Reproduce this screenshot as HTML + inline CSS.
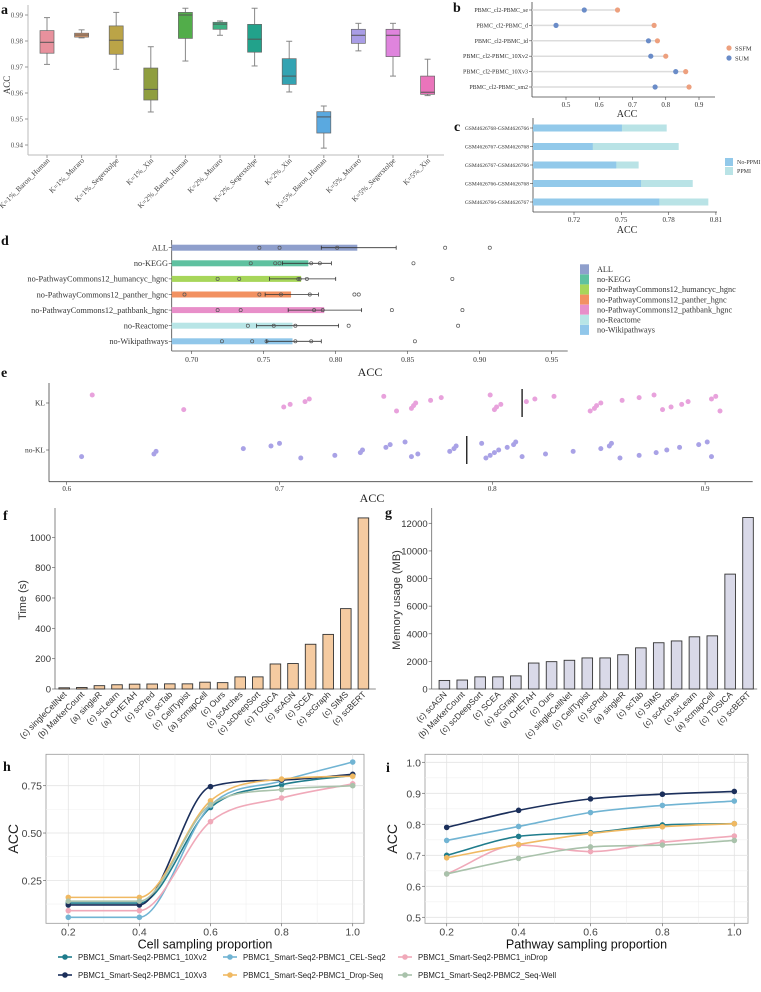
<!DOCTYPE html>
<html><head><meta charset="utf-8"><style>
html,body{margin:0;padding:0;background:#fff;width:761px;height:992px;overflow:hidden}
svg{display:block}
.serif{font-family:"Liberation Serif",serif}
.sans{font-family:"Liberation Sans",sans-serif}
</style></head><body>
<svg id="fig" width="761" height="992" viewBox="0 0 761 992" xmlns="http://www.w3.org/2000/svg">
<g class="serif" font-weight="bold" font-size="14" fill="#111">
<text x="1" y="14">a</text>
<text x="453" y="12">b</text>
<text x="454" y="131">c</text>
<text x="1" y="245">d</text>
<text x="1" y="377">e</text>
<text x="3" y="520">f</text>
<text x="385" y="517">g</text>
<text x="3" y="771">h</text>
<text x="386" y="772">i</text>
</g>
</svg>
<script>
// ---------- DATA ----------
const aCats=["K=1%_Baron_Human","K=1%_Muraro","K=1%_Segerstolpe","K=1%_Xin","K=2%_Baron_Human","K=2%_Muraro","K=2%_Segerstolpe","K=2%_Xin","K=5%_Baron_Human","K=5%_Muraro","K=5%_Segerstolpe","K=5%_Xin"];
const aLow=[0.971,0.9812,0.9691,0.9527,0.9723,0.9822,0.9704,0.9604,0.9388,0.9762,0.9665,0.959];
const aQ1=[0.9753,0.9815,0.9749,0.9573,0.981,0.9845,0.9757,0.9633,0.9446,0.9791,0.974,0.9595];
const aMed=[0.9795,0.9823,0.9803,0.9614,0.990,0.9865,0.9807,0.9665,0.9508,0.9822,0.9822,0.9603];
const aQ3=[0.984,0.983,0.9858,0.9696,0.991,0.9872,0.9864,0.9732,0.9528,0.9845,0.9845,0.9665];
const aHigh=[0.989,0.9843,0.991,0.9778,0.9926,0.9877,0.9926,0.9799,0.955,0.9868,0.9868,0.973];
const aTicks=[0.94,0.95,0.96,0.97,0.98,0.99];
const bCats=["PBMC_cl2-PBMC_se","PBMC_cl2-PBMC_d","PBMC_cl2-PBMC_id","PBMC_cl2-PBMC_10Xv2","PBMC_cl2-PBMC_10Xv3","PBMC_cl2-PBMC_sm2"];
const bSSFM=[0.655,0.765,0.775,0.80,0.86,0.87];
const bSUM=[0.555,0.47,0.748,0.755,0.83,0.768];
const bTicks=[0.5,0.6,0.7,0.8,0.9];
const cCats=["GSM4626768-GSM4626766","GSM4626767-GSM4626768","GSM4626767-GSM4626766","GSM4626766-GSM4626768","GSM4626766-GSM4626767"];
const cNoPPMI=[0.7504,0.7319,0.7468,0.7625,0.7741];
const cPPMI=[0.7788,0.7864,0.761,0.7953,0.8052];
const cTicks=[0.72,0.75,0.78,0.81];
const dCats=["ALL","no-KEGG","no-PathwayCommons12_humancyc_hgnc","no-PathwayCommons12_panther_hgnc","no-PathwayCommons12_pathbank_hgnc","no-Reactome","no-Wikipathways"];
const dMean=[0.815,0.781,0.776,0.769,0.792,0.770,0.770];
const dErrLo=[0.790,0.763,0.754,0.751,0.767,0.745,0.752];
const dErrHi=[0.842,0.797,0.800,0.788,0.818,0.802,0.790];
const dPoints=[[0.747,0.761,0.801,0.876,0.907],[0.741,0.758,0.761,0.783,0.789,0.854],[0.718,0.733,0.774,0.775,0.78,0.881],[0.695,0.747,0.762,0.782,0.813,0.816],[0.718,0.734,0.785,0.791,0.839,0.888],[0.739,0.757,0.772,0.809,0.885],[0.721,0.742,0.752,0.772,0.783,0.855]];
const dTicks=[0.70,0.75,0.80,0.85,0.90,0.95];
const eKL=[0.612,0.655,0.702,0.705,0.712,0.714,0.749,0.755,0.762,0.763,0.764,0.771,0.776,0.799,0.801,0.802,0.804,0.816,0.820,0.829,0.846,0.848,0.849,0.851,0.861,0.869,0.876,0.880,0.884,0.889,0.892,0.903,0.905,0.907];
const eNoKL=[0.607,0.641,0.642,0.683,0.696,0.700,0.710,0.726,0.738,0.739,0.750,0.752,0.759,0.762,0.765,0.780,0.782,0.783,0.795,0.797,0.799,0.801,0.803,0.807,0.810,0.811,0.814,0.825,0.838,0.851,0.855,0.856,0.860,0.869,0.877,0.882,0.888,0.897,0.901,0.903];
const eMedians=[0.814,0.788];
const eTicks=[0.6,0.7,0.8,0.9];
const fCats=["(c) singleCellNet","(b) MarkerCount","(a) singleR","(c) scLearn","(a) CHETAH","(c) scPred","(c) scTab","(c) CellTypist","(a) scmapCell","(c) Ours","(c) scArches","(c) scDeepSort","(c) TOSICA","(c) scAGN","(c) SCEA","(c) scGraph","(c) SIMS","(c) scBERT"];
const fVals=[8,10,22,28,32,33,34,34,45,42,80,80,165,168,295,360,530,1128];
const fTicks=[0,200,400,600,800,1000];
const gCats=["(c) scAGN","(b) MarkerCount","(c) scDeepSort","(c) SCEA","(c) scGraph","(a) CHETAH","(c) Ours","(c) singleCellNet","(c) CellTypist","(c) scPred","(a) singleR","(c) scTab","(c) SIMS","(c) scArches","(c) scLearn","(a) scmapCell","(c) TOSICA","(c) scBERT"];
const gVals=[620,650,880,880,950,1880,1980,2080,2250,2250,2480,2980,3350,3480,3780,3850,8320,12420];
const gTicks=[0,2000,4000,6000,8000,10000,12000];
const hiProps=[0.2,0.4,0.6,0.8,1.0];
const seriesNames=["PBMC1_Smart-Seq2-PBMC1_10Xv2","PBMC1_Smart-Seq2-PBMC1_CEL-Seq2","PBMC1_Smart-Seq2-PBMC1_inDrop","PBMC1_Smart-Seq2-PBMC1_10Xv3","PBMC1_Smart-Seq2-PBMC1_Drop-Seq","PBMC1_Smart-Seq2-PBMC2_Seq-Well"];
const h10Xv2=[0.13,0.13,0.635,0.755,0.805];
const hCEL=[0.055,0.055,0.645,0.775,0.875];
const hInDrop=[0.09,0.09,0.56,0.685,0.76];
const h10Xv3=[0.12,0.12,0.745,0.78,0.81];
const hDropSeq=[0.16,0.16,0.67,0.785,0.80];
const hSeqWell=[0.14,0.14,0.65,0.73,0.75];
const i10Xv2=[0.70,0.761,0.773,0.798,0.802];
const iCEL=[0.748,0.793,0.838,0.861,0.875];
const iInDrop=[0.64,0.733,0.712,0.742,0.762];
const i10Xv3=[0.79,0.845,0.882,0.897,0.906];
const iDropSeq=[0.692,0.735,0.770,0.792,0.802];
const iSeqWell=[0.64,0.69,0.727,0.733,0.748];
const hTicks=[0.25,0.50,0.75];
const iTicks=[0.5,0.6,0.7,0.8,0.9,1.0];

// ---------- HELPERS ----------
const NS="http://www.w3.org/2000/svg";
const svg=document.getElementById('fig');
function mk(tag,attrs,parent){const e=document.createElementNS(NS,tag);for(const k in attrs)e.setAttribute(k,attrs[k]);(parent||svg).appendChild(e);return e;}
function tx(x,y,s,attrs,parent){const e=mk('text',Object.assign({x:x,y:y},attrs),parent);e.textContent=s;return e;}
function grp(cls,name){const g=mk('g',{class:cls});return g;}

// ---------- PANEL A ----------
(function(){
const g=grp('serif','panel-a-boxplot');
const ya=v=>15+(0.99-v)/0.01*26;
const xa=i=>47+i*34.6;
const cols=["#e8919d","#df9a6a","#bba447","#8f9e3f","#52ad4a","#3fb283","#22a28b","#33a3b2","#5aa9e0","#a99de6","#df84dd","#ea74bb"];
mk('line',{x1:28,y1:5,x2:28,y2:155,stroke:'#bbb'},g);
mk('line',{x1:28,y1:155,x2:444,y2:155,stroke:'#bbb'},g);
aTicks.forEach(t=>{mk('line',{x1:25,x2:28,y1:ya(t),y2:ya(t),stroke:'#999'},g);
 const l=tx(23,ya(t)+2.5,t.toFixed(2),{'font-size':7,'text-anchor':'end',fill:'#555'},g);
 });
const yl=tx(0,0,'ACC',{'font-size':9,'text-anchor':'middle',fill:'#333',transform:'translate(10,85) rotate(-90)'},g);

aCats.forEach((c,i)=>{const x=xa(i),w=14;
 const bx=mk('g',{},g);
 
 
 mk('line',{x1:x,x2:x,y1:ya(aHigh[i]),y2:ya(aLow[i]),stroke:'#888','stroke-width':1},bx);
 mk('line',{x1:x-3,x2:x+3,y1:ya(aHigh[i]),y2:ya(aHigh[i]),stroke:'#888'},bx);
 mk('line',{x1:x-3,x2:x+3,y1:ya(aLow[i]),y2:ya(aLow[i]),stroke:'#888'},bx);
 mk('rect',{x:x-w/2,y:ya(aQ3[i]),width:w,height:Math.max(1,ya(aQ1[i])-ya(aQ3[i])),fill:cols[i],stroke:'#666','stroke-width':0.7},bx);
 mk('line',{x1:x-w/2,x2:x+w/2,y1:ya(aMed[i]),y2:ya(aMed[i]),stroke:'#555','stroke-width':1},bx);
 mk('line',{x1:x,x2:x,y1:155,y2:158,stroke:'#999'},g);
 const l=tx(0,0,c,{'font-size':7.5,'text-anchor':'end',fill:'#444',transform:`translate(${x+3},${161}) rotate(-45)`},g);
 
});
})();

// ---------- PANEL B ----------
(function(){
const g=grp('serif','panel-b-dumbbell');
const xb=v=>566+(v-0.5)*332.5;
const yb=i=>10+i*15.4;
mk('line',{x1:532,y1:2,x2:532,y2:97,stroke:'#444','stroke-width':0.8},g);
mk('line',{x1:532,y1:97,x2:715,y2:97,stroke:'#444','stroke-width':0.8},g);
bCats.forEach((c,i)=>{const y=yb(i);
 mk('line',{x1:532,x2:xb(Math.max(bSSFM[i],bSUM[i])),y1:y,y2:y,stroke:'#dcdcdc','stroke-width':1.5},g);
 const p1=mk('circle',{cx:xb(bSSFM[i]),cy:y,r:2.6,fill:'#eda07e'},g);
 
 const p2=mk('circle',{cx:xb(bSUM[i]),cy:y,r:2.6,fill:'#6a8cc8'},g);
 
 mk('line',{x1:529,x2:532,y1:y,y2:y,stroke:'#444','stroke-width':0.6},g);
 const l=tx(528,y+2,c,{'font-size':6,'text-anchor':'end',fill:'#333'},g);
 });
bTicks.forEach(t=>{mk('line',{x1:xb(t),x2:xb(t),y1:97,y2:100,stroke:'#444','stroke-width':0.6},g);
 const l=tx(xb(t),107,String(t),{'font-size':7,'text-anchor':'middle',fill:'#333'},g);
 });
const xl=tx(627,117,'ACC',{'font-size':10,'text-anchor':'middle',fill:'#222'},g);

const l1=mk('g',{},g);
mk('circle',{cx:729,cy:48,r:2.6,fill:'#eda07e'},l1);tx(735,50.5,'SSFM',{'font-size':6.5,fill:'#333'},l1);
const l2=mk('g',{},g);
mk('circle',{cx:729,cy:58,r:2.6,fill:'#6a8cc8'},l2);tx(735,60.5,'SUM',{'font-size':6.5,fill:'#333'},l2);
})();

// ---------- PANEL C ----------
(function(){
const g=grp('serif','panel-c-stacked-bars');
const xc=v=>574+(v-0.72)/0.03*47.3;
const yc=i=>128+i*18.5;
mk('line',{x1:533,y1:118,x2:533,y2:212,stroke:'#444','stroke-width':0.8},g);
mk('line',{x1:533,y1:212,x2:717,y2:212,stroke:'#444','stroke-width':0.8},g);
cCats.forEach((c,i)=>{const y=yc(i);
 const b2=mk('rect',{x:533,y:y-3.5,width:xc(cPPMI[i])-533,height:7,fill:'#b9e3e6'},g);
 
 const b1=mk('rect',{x:533,y:y-3.5,width:xc(cNoPPMI[i])-533,height:7,fill:'#92c9ea'},g);
 
 mk('line',{x1:530,x2:533,y1:y,y2:y,stroke:'#444','stroke-width':0.6},g);
 const l=tx(529,y+2,c,{'font-size':5.5,'text-anchor':'end',fill:'#333'},g);
 });
cTicks.forEach(t=>{mk('line',{x1:xc(t),x2:xc(t),y1:212,y2:215,stroke:'#444','stroke-width':0.6},g);
 const l=tx(xc(t),222,t.toFixed(2),{'font-size':7,'text-anchor':'middle',fill:'#333'},g);
 });
const xl=tx(627,233,'ACC',{'font-size':10,'text-anchor':'middle',fill:'#222'},g);

const l1=mk('g',{},g);
mk('rect',{x:725,y:158,width:8,height:8,fill:'#92c9ea'},l1);tx(737,164,'No-PPMI',{'font-size':6,fill:'#333'},l1);
const l2=mk('g',{},g);
mk('rect',{x:725,y:167,width:8,height:8,fill:'#b9e3e6'},l2);tx(737,173,'PPMI',{'font-size':6,fill:'#333'},l2);
})();

// ---------- PANEL D ----------
(function(){
const g=grp('serif','panel-d-bar-dots');
const xd=v=>191.7+(v-0.7)*1440;
const yd=i=>247.7+i*15.6;
const cols=["#8f9fcc","#5fc1a0","#a7d65a","#f29161","#e88fc9","#b8e5e6","#91c7ea"];
mk('line',{x1:171.7,y1:240,x2:171.7,y2:351,stroke:'#444','stroke-width':0.8},g);
mk('line',{x1:171.7,y1:351,x2:567.7,y2:351,stroke:'#444','stroke-width':0.8},g);
dCats.forEach((c,i)=>{const y=yd(i);
 const b=mk('rect',{x:171.7,y:y-3,width:xd(dMean[i])-171.7,height:6,fill:cols[i]},g);
 
 mk('line',{x1:xd(dErrLo[i]),x2:xd(dErrHi[i]),y1:y,y2:y,stroke:'#333','stroke-width':0.8},g);
 mk('line',{x1:xd(dErrLo[i]),x2:xd(dErrLo[i]),y1:y-2,y2:y+2,stroke:'#333','stroke-width':0.8},g);
 mk('line',{x1:xd(dErrHi[i]),x2:xd(dErrHi[i]),y1:y-2,y2:y+2,stroke:'#333','stroke-width':0.8},g);
 dPoints[i].forEach(v=>{const p=mk('circle',{cx:xd(v),cy:y,r:1.6,fill:'none',stroke:'#555','stroke-width':0.7},g);
  });
 mk('line',{x1:168.7,x2:171.7,y1:y,y2:y,stroke:'#444','stroke-width':0.6},g);
 const l=tx(168,y+2.8,c,{'font-size':8.3,'text-anchor':'end',fill:'#333'},g);
 
 const le=mk('g',{},g);
 mk('rect',{x:580,y:264.3+i*10.1,width:9,height:10,fill:cols[i]},le);
 tx(597,272+i*10.1,c,{'font-size':8.2,fill:'#333'},le);
});
dTicks.forEach(t=>{mk('line',{x1:xd(t),x2:xd(t),y1:351,y2:354,stroke:'#444','stroke-width':0.6},g);
 const l=tx(xd(t),362,t.toFixed(2),{'font-size':7.5,'text-anchor':'middle',fill:'#333'},g);
 });
const xl=tx(370,376,'ACC',{'font-size':12,'text-anchor':'middle',fill:'#222'},g);

})();

// ---------- PANEL E ----------
(function(){
const g=grp('serif','panel-e-strip');
const xe=v=>66.7+(v-0.6)*2128;
const rows=[{n:'KL',y:403,d:eKL,c:'#e8a2dc',m:eMedians[0]},{n:'no-KL',y:450,d:eNoKL,c:'#a9a2e6',m:eMedians[1]}];
mk('line',{x1:49,y1:383,x2:49,y2:481.7,stroke:'#444','stroke-width':0.8},g);
mk('line',{x1:49,y1:481.7,x2:752.7,y2:481.7,stroke:'#444','stroke-width':0.8},g);
rows.forEach((r,ri)=>{
 r.d.forEach((v,j)=>{const jit=(((j*37+ri*11)%13)/12-0.5)*16;
  const p=mk('circle',{cx:xe(v),cy:r.y+jit,r:2.5,fill:r.c},g);
  });
 const m=mk('line',{x1:xe(r.m),x2:xe(r.m),y1:r.y-14,y2:r.y+14,stroke:'#111','stroke-width':1.3},g);
 
 mk('line',{x1:46,x2:49,y1:r.y,y2:r.y,stroke:'#444','stroke-width':0.6},g);
 const l=tx(45,r.y+2.7,r.n,{'font-size':7.5,'text-anchor':'end',fill:'#333'},g);
 
});
eTicks.forEach(t=>{mk('line',{x1:xe(t),x2:xe(t),y1:481.7,y2:484.7,stroke:'#444','stroke-width':0.6},g);
 const l=tx(xe(t),491,String(t),{'font-size':7,'text-anchor':'middle',fill:'#333'},g);
 });
const xl=tx(372,502,'ACC',{'font-size':12,'text-anchor':'middle',fill:'#222'},g);

})();

// ---------- PANELS F, G ----------
function barPanel(name,cats,vals,ticks,x0,first,step,yScale,fill,ylab,ylx){
 const g=grp('sans',name);
 mk('line',{x1:x0,y1:508,x2:x0,y2:689,stroke:'#666','stroke-width':0.8},g);
 mk('line',{x1:x0,y1:689,x2:x0+step*18+4,y2:689,stroke:'#666','stroke-width':0.8},g);
 ticks.forEach(t=>{const y=yScale(t);mk('line',{x1:x0-3,x2:x0,y1:y,y2:y,stroke:'#666','stroke-width':0.7},g);
  const l=tx(x0-4,y+3.5,String(t),{'font-size':9.5,'text-anchor':'end',fill:'#333'},g);
  });
 cats.forEach((c,i)=>{const x=first+i*step;
  const b=mk('rect',{x:x-5.3,y:yScale(vals[i]),width:10.6,height:689-yScale(vals[i]),fill:fill,stroke:'#333','stroke-width':0.9},g);
  
  const l=tx(0,0,c,{'font-size':8.5,'text-anchor':'end',fill:'#333',transform:`translate(${x+3},${695}) rotate(-45)`},g);
  });
 const yl=tx(0,0,ylab,{'font-size':11,'text-anchor':'middle',fill:'#333',transform:`translate(${ylx},600) rotate(-90)`},g);
 
}
barPanel('panel-f-time',fCats,fVals,fTicks,55,64.2,17.6,v=>689-v*0.15167,'#f5cba1','Time (s)',26);
barPanel('panel-g-memory',gCats,gVals,gTicks,431.7,444.4,17.86,v=>689-v*0.013808,'#d9d9e8','Memory usage (MB)',400);

// ---------- PANELS H, I ----------
const lineCols=["#1f7c8c","#71b4d3","#f0a9b9","#1b2f5b","#f0b962","#a9c2ab"];
function monotone(pts){const n=pts.length,dx=[],dy=[],m=[],t=[];
 for(let k=0;k<n-1;k++){dx[k]=pts[k+1][0]-pts[k][0];dy[k]=pts[k+1][1]-pts[k][1];m[k]=dy[k]/dx[k];}
 t[0]=m[0];t[n-1]=m[n-2];
 for(let k=1;k<n-1;k++){t[k]=(m[k-1]*m[k]<=0)?0:(m[k-1]+m[k])/2;}
 for(let k=0;k<n-1;k++){if(m[k]===0){t[k]=0;t[k+1]=0;continue;}
  const a=t[k]/m[k],b=t[k+1]/m[k],s=a*a+b*b;if(s>9){const r=3/Math.sqrt(s);t[k]=r*a*m[k];t[k+1]=r*b*m[k];}}
 let d=`M${pts[0][0]},${pts[0][1]}`;
 for(let k=0;k<n-1;k++){const h=dx[k]/3;
  d+=` C${pts[k][0]+h},${pts[k][1]+t[k]*h} ${pts[k+1][0]-h},${pts[k+1][1]-t[k+1]*h} ${pts[k+1][0]},${pts[k+1][1]}`;}
 return d;}
function linePanel(name,box,xs,ys,ticks,minor,series,fmt,xlab){
 const g=grp('sans',name);
 mk('rect',{x:box[0],y:box[1],width:box[2]-box[0],height:box[3]-box[1],fill:'#fff',stroke:'#999','stroke-width':0.8},g);
 [0.3,0.5,0.7,0.9].forEach(p=>mk('line',{x1:xs(p),x2:xs(p),y1:box[1],y2:box[3],stroke:'#f0f0f0','stroke-width':0.6},g));
 minor.forEach(t=>mk('line',{x1:box[0],x2:box[2],y1:ys(t),y2:ys(t),stroke:'#f0f0f0','stroke-width':0.6},g));
 hiProps.forEach(p=>{mk('line',{x1:xs(p),x2:xs(p),y1:box[1],y2:box[3],stroke:'#e3e3e3','stroke-width':0.8},g);
  mk('line',{x1:xs(p),x2:xs(p),y1:box[3],y2:box[3]+3,stroke:'#666','stroke-width':0.7},g);
  const l=tx(xs(p),box[3]+12,p.toFixed(1),{'font-size':10.5,'text-anchor':'middle',fill:'#444'},g);
  });
 ticks.forEach(t=>{mk('line',{x1:box[0],x2:box[2],y1:ys(t),y2:ys(t),stroke:'#e3e3e3','stroke-width':0.8},g);
  mk('line',{x1:box[0]-3,x2:box[0],y1:ys(t),y2:ys(t),stroke:'#666','stroke-width':0.7},g);
  const l=tx(box[0]-4,ys(t)+4,fmt(t),{'font-size':10.5,'text-anchor':'end',fill:'#444'},g);
  });
 series.forEach((s,si)=>{const pts=hiProps.map((p,k)=>[xs(p),ys(s[k])]);
  const path=mk('path',{d:monotone(pts),fill:'none',stroke:lineCols[si],'stroke-width':1.6},g);
  
  pts.forEach(pt=>{const c=mk('circle',{cx:pt[0],cy:pt[1],r:2.8,fill:lineCols[si]},g);
   });});
 const yl=tx(0,0,'ACC',{'font-size':14,'text-anchor':'middle',fill:'#222',transform:`translate(${box[0]-28},${(box[1]+box[3])/2}) rotate(-90)`},g);
 
 const xl=tx((box[0]+box[2])/2,box[3]+25,xlab,{'font-size':12.5,'text-anchor':'middle',fill:'#111'},g);
 
}
linePanel('panel-h-cell-sampling',[46,754.3,364,923.3],p=>68.3+(p-0.2)/0.8*284.4,v=>785.7-(v-0.75)*189.3,hTicks,[0.125,0.375,0.625],[h10Xv2,hCEL,hInDrop,h10Xv3,hDropSeq,hSeqWell],t=>t.toFixed(2),'Cell sampling proportion');
linePanel('panel-i-pathway-sampling',[425,754.3,748,923.3],p=>446.7+(p-0.2)/0.8*287.6,v=>762.3-(v-1)*310,iTicks,[0.55,0.65,0.75,0.85,0.95],[i10Xv2,iCEL,iInDrop,i10Xv3,iDropSeq,iSeqWell],t=>t.toFixed(1),'Pathway sampling proportion');

(function(){
const g=grp('sans','line-legend');
const lx=[58,223,398];
seriesNames.forEach((n,i)=>{const x=lx[i%3],y=i<3?957:975;
 const e=mk('g',{},g);
 
 
 mk('line',{x1:x,x2:x+14,y1:y,y2:y,stroke:lineCols[i],'stroke-width':1.6},e);
 mk('circle',{cx:x+7,cy:y,r:2.8,fill:lineCols[i]},e);
 tx(x+20,y+3,n,{'font-size':7.8,fill:'#222'},e);});
})();
</script>
</body></html>
